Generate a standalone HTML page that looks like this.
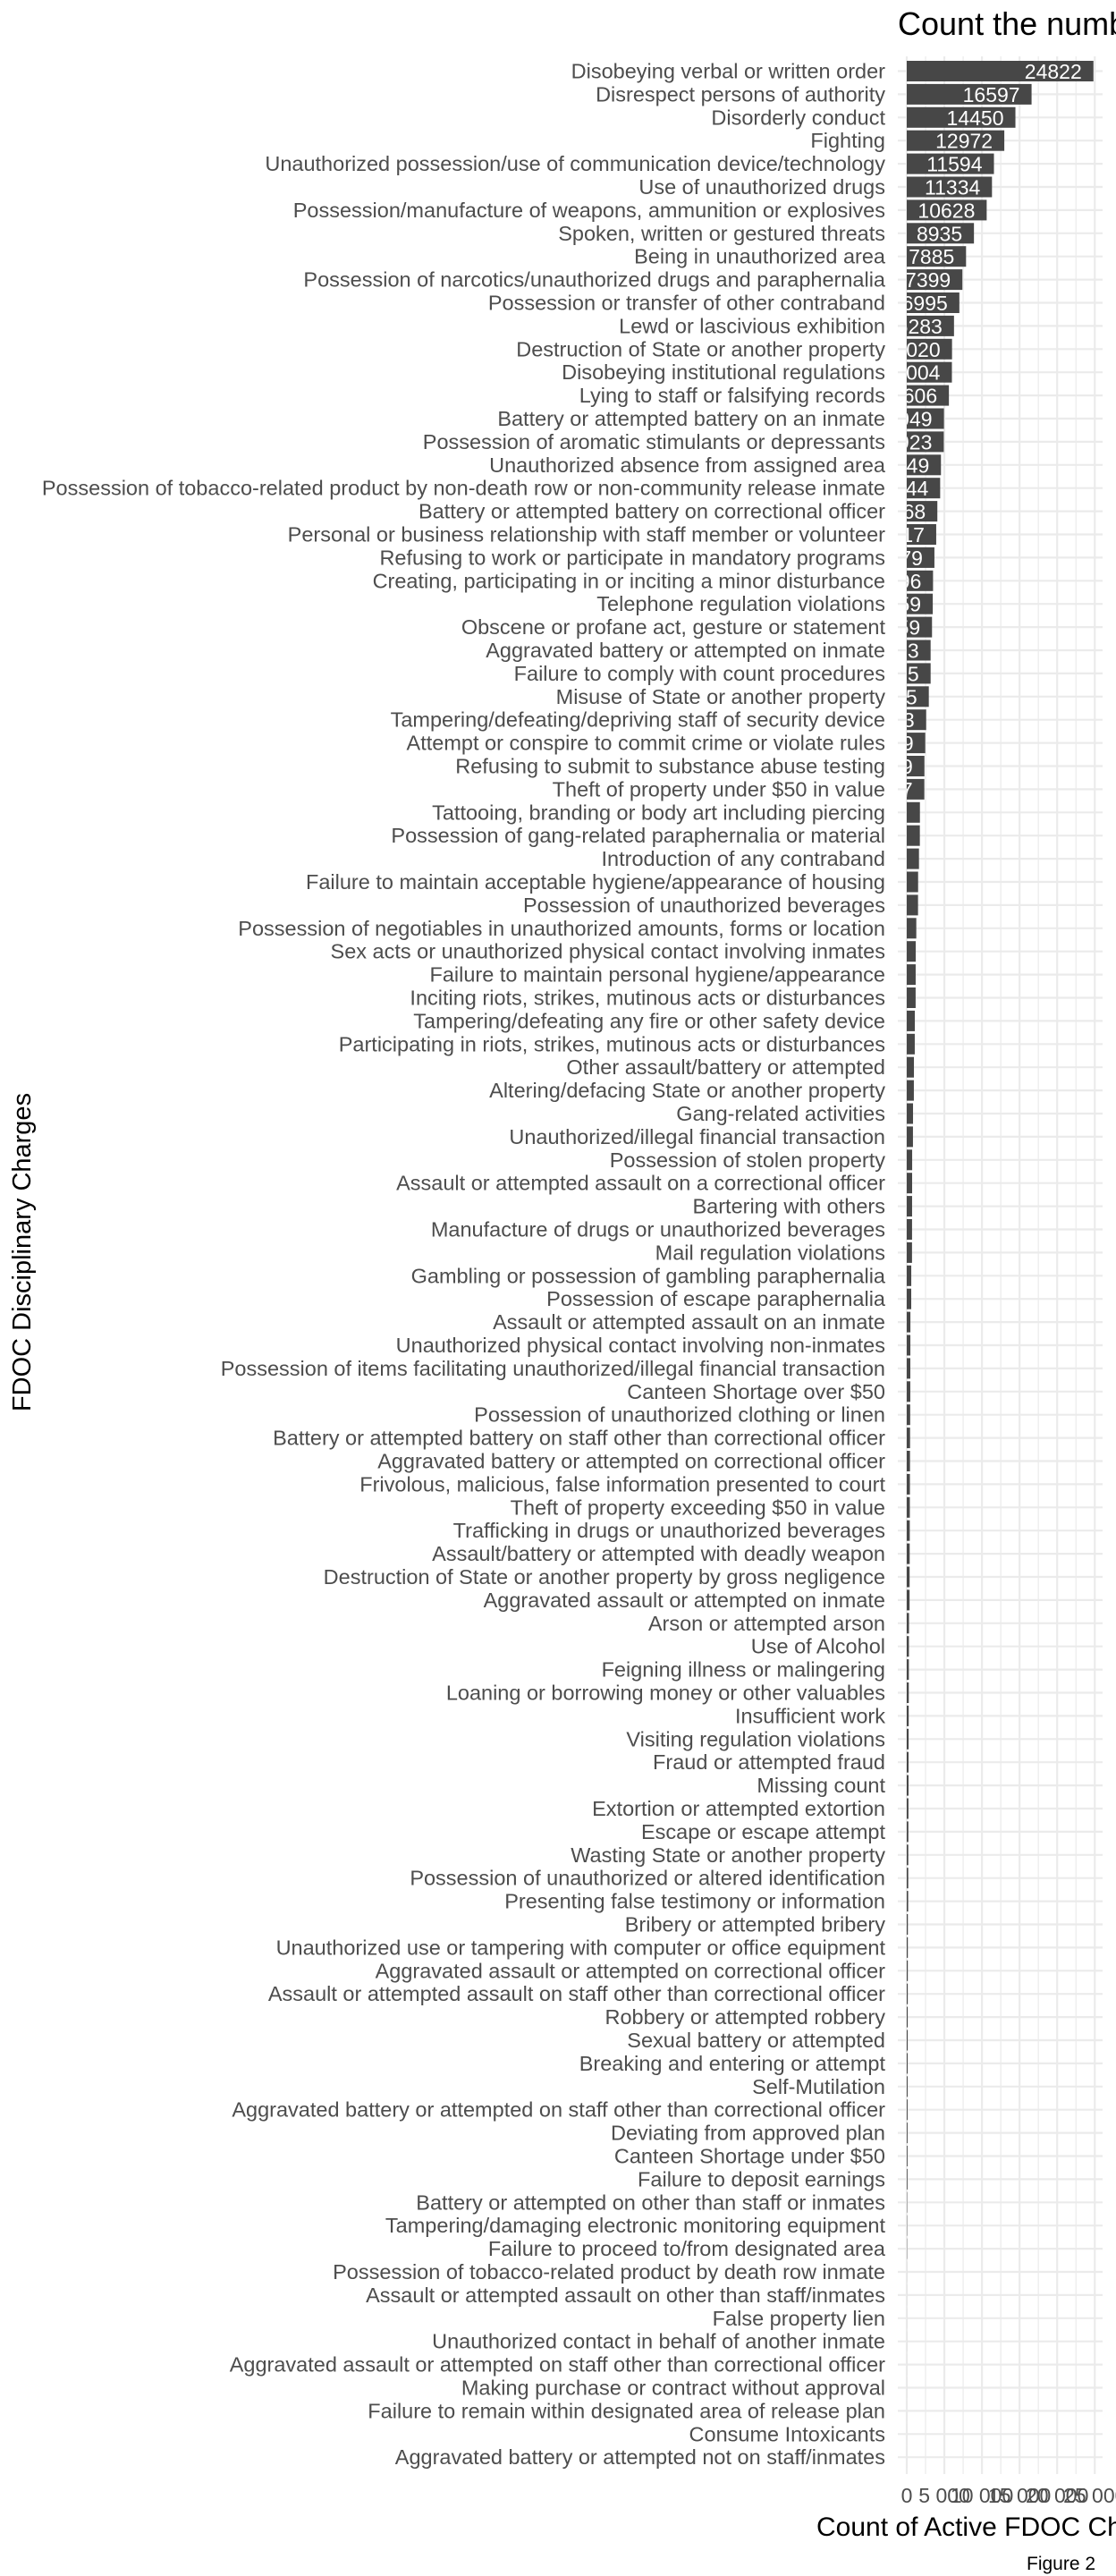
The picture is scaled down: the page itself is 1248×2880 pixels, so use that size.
<!DOCTYPE html>
<html><head><meta charset="utf-8"><style>
html,body{margin:0;padding:0;background:#fff;width:1248px;height:2880px;overflow:hidden}
svg{display:block;font-family:"Liberation Sans",Arial,sans-serif}
</style></head><body>
<svg id="chart" width="1248" height="2880" viewBox="0 0 1248 2880">
<text x="1004" y="39" font-size="36" fill="#000">Count the number of Active FDOC Charges</text>
<g id="grid"></g><g id="bars"></g><g id="ylabels"></g><g id="xlabels"></g>
<text transform="translate(34,1400) rotate(-90)" text-anchor="middle" font-size="29" fill="#000">FDOC Disciplinary Charges</text>
<text x="913" y="2835" font-size="30" fill="#000">Count of Active FDOC Charges</text>
<text x="1148" y="2873" font-size="21" fill="#000">Figure 2</text>
</svg>
<script>
const categories = ["Disobeying verbal or written order","Disrespect persons of authority","Disorderly conduct","Fighting","Unauthorized possession/use of communication device/technology","Use of unauthorized drugs","Possession/manufacture of weapons, ammunition or explosives","Spoken, written or gestured threats","Being in unauthorized area","Possession of narcotics/unauthorized drugs and paraphernalia","Possession or transfer of other contraband","Lewd or lascivious exhibition","Destruction of State or another property","Disobeying institutional regulations","Lying to staff or falsifying records","Battery or attempted battery on an inmate","Possession of aromatic stimulants or depressants","Unauthorized absence from assigned area","Possession of tobacco-related product by non-death row or non-community release inmate","Battery or attempted battery on correctional officer","Personal or business relationship with staff member or volunteer","Refusing to work or participate in mandatory programs","Creating, participating in or inciting a minor disturbance","Telephone regulation violations","Obscene or profane act, gesture or statement","Aggravated battery or attempted on inmate","Failure to comply with count procedures","Misuse of State or another property","Tampering/defeating/depriving staff of security device","Attempt or conspire to commit crime or violate rules","Refusing to submit to substance abuse testing","Theft of property under $50 in value","Tattooing, branding or body art including piercing","Possession of gang-related paraphernalia or material","Introduction of any contraband","Failure to maintain acceptable hygiene/appearance of housing","Possession of unauthorized beverages","Possession of negotiables in unauthorized amounts, forms or location","Sex acts or unauthorized physical contact involving inmates","Failure to maintain personal hygiene/appearance","Inciting riots, strikes, mutinous acts or disturbances","Tampering/defeating any fire or other safety device","Participating in riots, strikes, mutinous acts or disturbances","Other assault/battery or attempted","Altering/defacing State or another property","Gang-related activities","Unauthorized/illegal financial transaction","Possession of stolen property","Assault or attempted assault on a correctional officer","Bartering with others","Manufacture of drugs or unauthorized beverages","Mail regulation violations","Gambling or possession of gambling paraphernalia","Possession of escape paraphernalia","Assault or attempted assault on an inmate","Unauthorized physical contact involving non-inmates","Possession of items facilitating unauthorized/illegal financial transaction","Canteen Shortage over $50","Possession of unauthorized clothing or linen","Battery or attempted battery on staff other than correctional officer","Aggravated battery or attempted on correctional officer","Frivolous, malicious, false information presented to court","Theft of property exceeding $50 in value","Trafficking in drugs or unauthorized beverages","Assault/battery or attempted with deadly weapon","Destruction of State or another property by gross negligence","Aggravated assault or attempted on inmate","Arson or attempted arson","Use of Alcohol","Feigning illness or malingering","Loaning or borrowing money or other valuables","Insufficient work","Visiting regulation violations","Fraud or attempted fraud","Missing count","Extortion or attempted extortion","Escape or escape attempt","Wasting State or another property","Possession of unauthorized or altered identification","Presenting false testimony or information","Bribery or attempted bribery","Unauthorized use or tampering with computer or office equipment","Aggravated assault or attempted on correctional officer","Assault or attempted assault on staff other than correctional officer","Robbery or attempted robbery","Sexual battery or attempted","Breaking and entering or attempt","Self-Mutilation","Aggravated battery or attempted on staff other than correctional officer","Deviating from approved plan","Canteen Shortage under $50","Failure to deposit earnings","Battery or attempted on other than staff or inmates","Tampering/damaging electronic monitoring equipment","Failure to proceed to/from designated area","Possession of tobacco-related product by death row inmate","Assault or attempted assault on other than staff/inmates","False property lien","Unauthorized contact in behalf of another inmate","Aggravated assault or attempted on staff other than correctional officer","Making purchase or contract without approval","Failure to remain within designated area of release plan","Consume Intoxicants","Aggravated battery or attempted not on staff/inmates"];
const counts = [24822,16597,14450,12972,11594,11334,10628,8935,7885,7399,6995,6283,6020,6004,5606,4949,4923,4549,4444,4068,3917,3679,3496,3459,3359,3173,3175,2935,2583,2459,2349,2337,1752,1742,1626,1510,1500,1270,1195,1185,1180,1075,1065,955,945,835,825,720,715,710,705,700,600,595,485,480,475,470,455,440,430,420,410,400,390,380,375,300,290,280,270,260,250,240,235,225,215,205,200,190,150,145,140,135,130,125,120,115,110,105,100,95,45,40,35,5,4,3,3,2,2,1,1,1];
const xTicks = [0,5000,10000,15000,20000,25000];
const xTickLabels = ["0","5 000","10 000","15 000","20 000","25 000"];
const minorTicks = [2500,7500,12500,17500,22500];

const NS="http://www.w3.org/2000/svg";
const X0=1014, K=0.00841, PL=1004, PR=1233, PT=63, PB=2766, Y1=79.5, STEP=25.9, BH=23;
const xs=v=>X0+v*K, ys=i=>Y1+i*STEP;
function mk(tag,attrs,parent){const e=document.createElementNS(NS,tag);for(const k in attrs)e.setAttribute(k,attrs[k]);parent.appendChild(e);return e;}
const grid=document.getElementById('grid'),bars=document.getElementById('bars'),yl=document.getElementById('ylabels'),xl=document.getElementById('xlabels');
minorTicks.forEach(v=>{const l=mk('line',{x1:xs(v),x2:xs(v),y1:PT,y2:PB,stroke:'#ebebeb','stroke-width':1.2},grid);

});
xTicks.forEach((v,i)=>{const l=mk('line',{x1:xs(v),x2:xs(v),y1:PT,y2:PB,stroke:'#ebebeb','stroke-width':2.2},grid);


const t=mk('text',{x:xs(v),y:2798,'text-anchor':'middle','font-size':23,fill:'#4d4d4d'},xl);t.textContent=xTickLabels[i];

});
categories.forEach((c,i)=>{const y=ys(i);
const g=mk('line',{x1:PL,x2:PR,y1:y,y2:y,stroke:'#ebebeb','stroke-width':2.2},grid);


const r=mk('rect',{x:X0,y:y-BH/2,width:Math.max(counts[i]*K,0),height:BH,fill:'#474747'},bars);


const t=mk('text',{x:990,y:y+8,'text-anchor':'end','font-size':23.5,fill:'#4d4d4d'},yl);t.textContent=c;


if(i<32){const v=mk('text',{x:xs(counts[i])-13,y:y+8.5,'text-anchor':'end','font-size':23,fill:'#fff','clip-path':'url(#pc)'},bars);v.textContent=counts[i];

}
});
const defs=mk('defs',{},document.getElementById('chart'));const cp=mk('clipPath',{id:'pc'},defs);mk('rect',{x:X0,y:0,width:300,height:2880},cp);
</script>
</body></html>
